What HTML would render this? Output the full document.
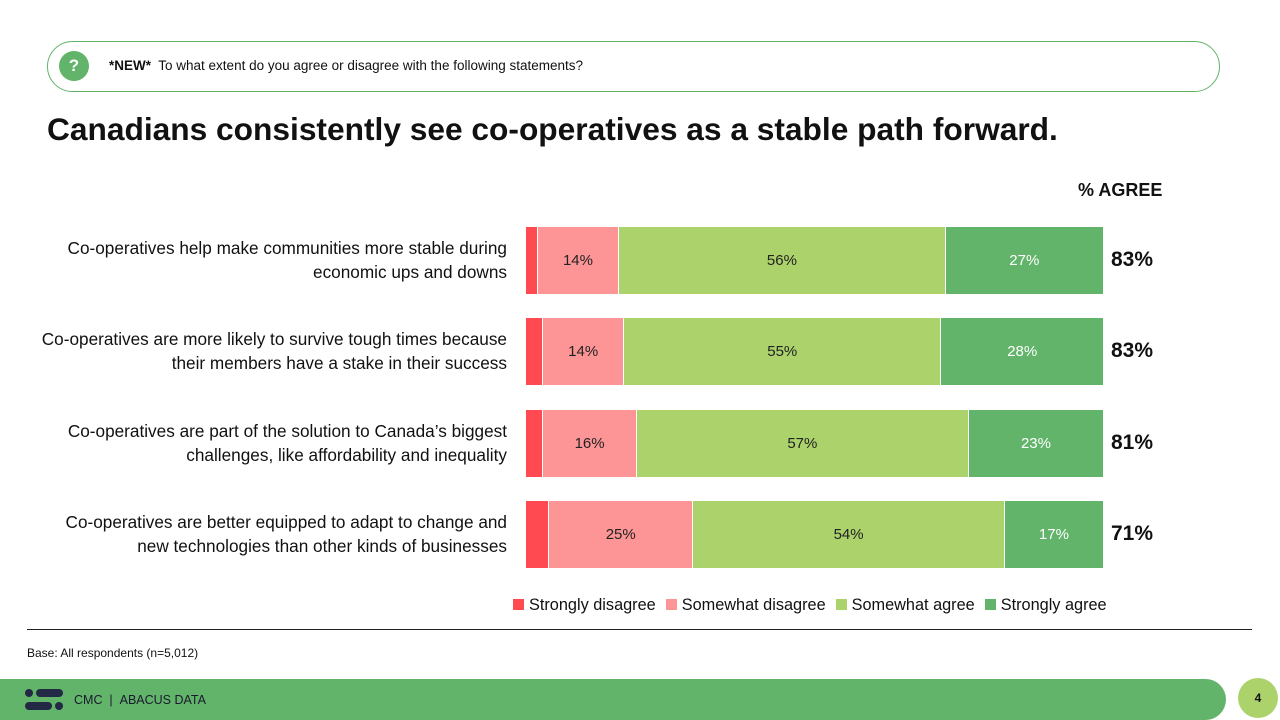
<!DOCTYPE html>
<html><head><meta charset="utf-8"><style>
body{margin:0;width:1280px;height:720px;position:relative;overflow:hidden;background:#fff;font-family:"Liberation Sans",sans-serif;color:#111}
.abs{position:absolute}
.lbl{position:absolute;right:773px;text-align:right;font-size:17.2px;line-height:24px;width:520px}
.seg{position:absolute;display:flex;align-items:center;justify-content:center;font-size:15px}
.tot{position:absolute;left:1111px;font-size:21px;font-weight:bold}
</style></head><body>
<div class="abs" style="left:47px;top:41px;width:1171px;height:49px;border:1px solid #62b46a;border-radius:26px"></div>
<div class="abs" style="left:59px;top:51px;width:30px;height:30px;border-radius:50%;background:#62b46a;color:#fff;font-weight:bold;font-size:17px;text-align:center;line-height:30px">?</div>
<div class="abs" style="left:109px;top:58px;font-size:13.5px"><b>*NEW*</b>&nbsp; To what extent do you agree or disagree with the following statements?</div>
<div class="abs" style="left:47px;top:111px;font-size:31.7px;font-weight:bold">Canadians consistently see co-operatives as a stable path forward.</div>
<div class="abs" style="left:1078px;top:180px;font-size:18px;font-weight:bold">% AGREE</div>
<div id="chart"></div>
<div class="abs" style="left:513px;top:596px;font-size:16.3px;display:flex;gap:10px;align-items:center">
<span><i style="display:inline-block;width:11px;height:11px;background:#fe4a50;margin-right:5px"></i>Strongly disagree</span>
<span><i style="display:inline-block;width:11px;height:11px;background:#fd9596;margin-right:5px"></i>Somewhat disagree</span>
<span><i style="display:inline-block;width:11px;height:11px;background:#acd26c;margin-right:5px"></i>Somewhat agree</span>
<span><i style="display:inline-block;width:11px;height:11px;background:#62b46a;margin-right:5px"></i>Strongly agree</span>
</div>
<div class="abs" style="left:27px;top:629px;width:1225px;height:1px;background:#222"></div>
<div class="abs" style="left:27px;top:646px;font-size:12px">Base: All respondents (n=5,012)</div>
<div class="abs" style="left:0;top:679px;width:1226px;height:41px;background:#62b46a;border-radius:0 21px 21px 0"></div>
<div class="abs" style="left:25px;top:689px;width:38px;height:22px">
<i class="abs" style="left:0;top:0;width:8px;height:8px;border-radius:4px;background:#232845"></i>
<i class="abs" style="left:11px;top:0;width:27px;height:8px;border-radius:4px;background:#232845"></i>
<i class="abs" style="left:0;top:13px;width:27px;height:8px;border-radius:4px;background:#232845"></i>
<i class="abs" style="left:30px;top:13px;width:8px;height:8px;border-radius:4px;background:#232845"></i>
</div>
<div class="abs" style="left:74px;top:693px;font-size:12.5px;color:#1a1a2e">CMC &nbsp;| &nbsp;ABACUS DATA</div>
<div class="abs" style="left:1238px;top:678px;width:40px;height:40px;border-radius:50%;background:#acd26c;text-align:center;line-height:40px;font-size:12px;font-weight:bold">4</div>
<script>
const categories=["Co-operatives help make communities more stable during<br>economic ups and downs","Co-operatives are more likely to survive tough times because<br>their members have a stake in their success","Co-operatives are part of the solution to Canada’s biggest<br>challenges, like affordability and inequality","Co-operatives are better equipped to adapt to change and<br>new technologies than other kinds of businesses"];
const stronglyDisagree=[2,3,3,4];
const somewhatDisagree=[14,14,16,25];
const somewhatAgree=[56,55,57,54];
const stronglyAgree=[27,28,23,17];
const agreeTotals=[83,83,81,71];
const colors=["#fe4a50","#fd9596","#acd26c","#62b46a"];
const txtCol=["#fff","#222","#222","#fff"];
const chart=document.getElementById('chart');
const X0=526,W=577,rowTop=227,rowStep=91.4,rowH=67;
categories.forEach((c,i)=>{
  const y=rowTop+i*rowStep;
  const l=document.createElement('div');l.className='lbl';l.style.top=(y+9)+'px';l.innerHTML=c;
  
  
  chart.appendChild(l);
  const vals=[stronglyDisagree[i],somewhatDisagree[i],somewhatAgree[i],stronglyAgree[i]];
  const sum=vals.reduce((a,b)=>a+b,0);
  let x=X0;
  vals.forEach((v,k)=>{
    const w=v/sum*W;
    const s=document.createElement('div');s.className='seg';
    s.style.cssText+=`left:${x}px;top:${y}px;width:${w}px;height:${rowH}px;background:${colors[k]};color:${txtCol[k]};${k<3?'border-right:1px solid #fff;box-sizing:border-box;':''}`;
    if(k>0)s.textContent=v+'%';
    
    
    chart.appendChild(s);x+=w;
  });
  const t=document.createElement('div');t.className='tot';t.style.top=(y+21)+'px';t.textContent=agreeTotals[i]+'%';
  
  
  chart.appendChild(t);
});
</script>
</body></html>
